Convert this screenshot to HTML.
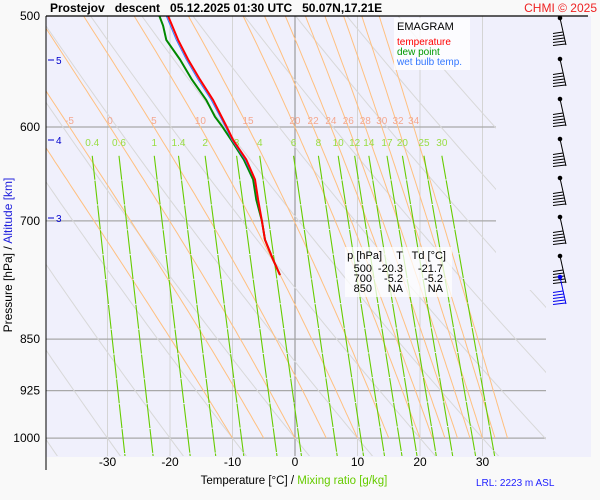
<!DOCTYPE html>
<html><head><meta charset="utf-8"><style>
html,body{margin:0;padding:0;background:#f9f9f9;}
svg{display:block;font-family:"Liberation Sans",sans-serif;}
</style></head><body>
<svg id="chart" width="600" height="500" viewBox="0 0 600 500">
<defs>
<clipPath id="clipA"><polygon points="46,16 496,16 496,290 546,290 546,456 46,456"/></clipPath>
<clipPath id="clipG"><rect x="46" y="150" width="500" height="306"/></clipPath>
</defs>
<rect x="46" y="16" width="545" height="441" fill="#f0f0fc"/>
<g id="grid"></g>
<g id="dry" clip-path="url(#clipA)"></g>
<g id="moist" clip-path="url(#clipA)"></g>
<g id="mix" clip-path="url(#clipG)"></g>
<g id="labels"></g>
<g id="series"></g>
<line x1="46" y1="16" x2="588" y2="16" stroke="#000" stroke-width="1.3"/>
<line x1="46" y1="16" x2="46" y2="470" stroke="#000" stroke-width="1"/>
<g id="yticks" font-size="12" text-anchor="end"></g>
<g id="xticks" font-size="12" text-anchor="middle"></g>
<g fill="#0000cc" font-size="10">
<line x1="48" y1="60" x2="54" y2="60" stroke="#0000cc"/><text x="56" y="64">5</text>
<line x1="48" y1="140" x2="54" y2="140" stroke="#0000cc"/><text x="56" y="144">4</text>
<line x1="48" y1="218" x2="54" y2="218" stroke="#0000cc"/><text x="56" y="222">3</text>
</g>
<text x="12" y="255" font-size="12" text-anchor="middle" transform="rotate(-90 12 255)"><tspan fill="#000">Pressure [hPa]  /  </tspan><tspan fill="#2222dd">Altitude [km]</tspan></text>
<text x="294" y="484" font-size="11.5" text-anchor="middle"><tspan fill="#000">Temperature [°C]  /  </tspan><tspan fill="#66cc00">Mixing ratio [g/kg]</tspan></text>
<text x="476" y="486" font-size="10" fill="#2222ff">LRL: 2223 m ASL</text>
<text x="50" y="12" font-size="12" font-weight="bold" xml:space="preserve">Prostejov   descent   05.12.2025 01:30 UTC   50.07N,17.21E</text>
<text x="597" y="12" font-size="12" fill="#ee2222" text-anchor="end">CHMI © 2025</text>
<g>
<rect x="394" y="18" width="76" height="52" fill="#fff" opacity="0.8"/>
<text x="397" y="30" font-size="11">EMAGRAM</text>
<text x="397" y="45" font-size="10" fill="#ff0000">temperature</text>
<text x="397" y="55" font-size="10" fill="#009900">dew point</text>
<text x="397" y="65" font-size="10" fill="#3377ff">wet bulb temp.</text>
</g>
<g font-size="11" text-anchor="end">
<rect x="345" y="247" width="107" height="50" fill="#fff" opacity="0.75"/>
<text x="382" y="259">p [hPa]</text><text x="403" y="259">T</text><text x="446" y="259">Td [°C]</text>
<text x="372" y="272">500</text><text x="403" y="272">-20.3</text><text x="443" y="272">-21.7</text>
<text x="372" y="282">700</text><text x="403" y="282">-5.2</text><text x="443" y="282">-5.2</text>
<text x="372" y="292">850</text><text x="403" y="292">NA</text><text x="443" y="292">NA</text>
</g>
<g id="barbs"></g>
</svg>
<script>
const tempPressure=[500,520,537,555,574,599,613,633,654,676,700,722,746,765];
const tempValues=[-20.3,-18.7,-17.1,-15.2,-13.1,-11.0,-9.9,-7.8,-6.4,-5.9,-5.3,-4.8,-3.5,-2.4];
const dewPressure=[500,508,520,537,555,574,590,599,613,633,654,676,700,722,746,765];
const dewValues=[-21.7,-21.1,-20.6,-18.4,-16.5,-14.2,-12.8,-11.7,-10.2,-8.2,-6.7,-6.2,-5.3,-4.8,-3.5,-2.4];
const wetValues=[-20.6,-19.0,-17.4,-15.5,-13.4,-11.2,-10.1,-8.0,-6.5,-6.0,-5.3,-4.8,-3.5,-2.4];
const isobars=[600,700,850,925,1000];
const yTickLabels=[500,600,700,850,925,1000];
const xTickLabels=[-30,-20,-10,0,10,20,30];
const moistLabels=[-5,0,5,10,15,20,22,24,26,28,30,32,34];
const moistExtra=[-10];
const dryThetas=[-60,-50,-40,-30,-20,-10,0,10,20,30,40,50,60,70,80];
const mixRatios=[0.4,0.6,1,1.4,2,3,4,6,8,10,12,14,17,20,25,30];
const barbTops=[18,59,99,139,178,217,256];

const NS="http://www.w3.org/2000/svg";
const X=t=>295+6.25*t;
const Y=p=>16+609*Math.log(p/500);
function mk(tag,attrs,parent){const e=document.createElementNS(NS,tag);for(const k in attrs)e.setAttribute(k,attrs[k]);parent.appendChild(e);return e;}
const G=id=>document.getElementById(id);

for(const t of [-30,-20,-10,0,10,20,30]){
 const l=mk('line',{x1:X(t),y1:16,x2:X(t),y2:456,stroke:t===0?'#8a8a8a':'#d4d4d4','stroke-width':1},G('grid'));
 
 
}
for(const p of isobars){
 const l=mk('line',{x1:46,y1:Y(p),x2:p<=700?496:546,y2:Y(p),stroke:'#a8a8a8','stroke-width':1.2},G('grid'));
 
 
}
for(const th of dryThetas){
 let pts=[];for(let p=420;p<=1100;p+=10){const T=(th+273.15)*Math.pow(p/1000,0.286)-273.15;pts.push(X(T).toFixed(1)+','+Y(p).toFixed(1));}
 const l=mk('polyline',{points:pts.join(' '),fill:'none',stroke:'#d8d8d8','stroke-width':1},G('dry'));
 
 
}
function es(T){return 6.112*Math.exp(17.67*T/(T+243.5));}
function moistLine(tw){
 let T=tw+273.15,p=1000,pts=[[X(tw),Y(1000)]];
 const Rd=287,cp=1004,L=2.5e6,eps=0.622;
 while(p>420){const e=es(T-273.15),rs=eps*e/(p-e);
  const dTdp=(Rd*T+L*rs)/(p*(cp+L*L*rs*eps/(Rd*T*T)));const dp=-5;T+=dTdp*dp;p+=dp;pts.push([X(T-273.15),Y(p)]);}
 return pts;}
for(const tw of moistExtra.concat(moistLabels)){
 const pts=moistLine(tw);
 const l=mk('polyline',{points:pts.map(a=>a[0].toFixed(1)+','+a[1].toFixed(1)).join(' '),fill:'none',stroke:'#ffc080','stroke-width':1},G('moist'));
 
 
 if(moistLabels.includes(tw)){
  let best=pts[0];for(const a of pts){if(Math.abs(a[1]-Y(600))<Math.abs(best[1]-Y(600)))best=a;}
  const t=mk('text',{x:best[0].toFixed(1),y:124,'font-size':10,fill:'#f4a890','text-anchor':'middle'},G('labels'));t.textContent=tw;
  
  
 }
}
function tdFromW(w,p){const e=w*p/(622+w);const a=Math.log(e/6.112);return 243.5*a/(17.67-a);}
for(const w of mixRatios){
 const p0=629,p1=1060;
 const l=mk('line',{x1:X(tdFromW(w,p0)),y1:Y(p0),x2:X(tdFromW(w,p1)),y2:Y(p1),stroke:'#66cc00','stroke-width':1.1,'stroke-dasharray':'24,1'},G('mix'));
 
 
 const t=mk('text',{x:X(tdFromW(w,p0)),y:146,'font-size':10,fill:'#99dd44','text-anchor':'middle'},G('labels'));t.textContent=w;
 
 
}
for(const p of yTickLabels){const t=mk('text',{x:40,y:Y(p)+4},G('yticks'));t.textContent=p;
 
 }
for(const v of xTickLabels){const t=mk('text',{x:X(v),y:466},G('xticks'));t.textContent=v;
 
 }
function line(ps,ts,color,w,name){
 const l=mk('polyline',{points:ps.map((p,i)=>X(ts[i]).toFixed(1)+','+Y(p).toFixed(1)).join(' '),fill:'none',stroke:color,'stroke-width':w,'stroke-linejoin':'round'},G('series'));
 
 
}
line(dewPressure,dewValues,'#008800',2,'dew-point-line');
line(tempPressure,wetValues,'#3377ff',1,'wet-bulb-line');
line(tempPressure,tempValues,'#ff0000',2,'temperature-line');
function barb(y,color){
 const g=mk('g',{stroke:color,fill:color,'stroke-width':1},G('barbs'));
 
 
 mk('circle',{cx:560,cy:y,r:1.8},g);
 mk('line',{x1:560,y1:y,x2:566,y2:y+27},g);
 for(let i=0;i<5;i++){const yy=y+14+i*3;mk('line',{x1:563+i*0.6,y1:yy,x2:553,y2:yy+1.5},g);}
}
for(const y of barbTops)barb(y,'#000');
barb(277,'#0000ee');
</script>
</body></html>
